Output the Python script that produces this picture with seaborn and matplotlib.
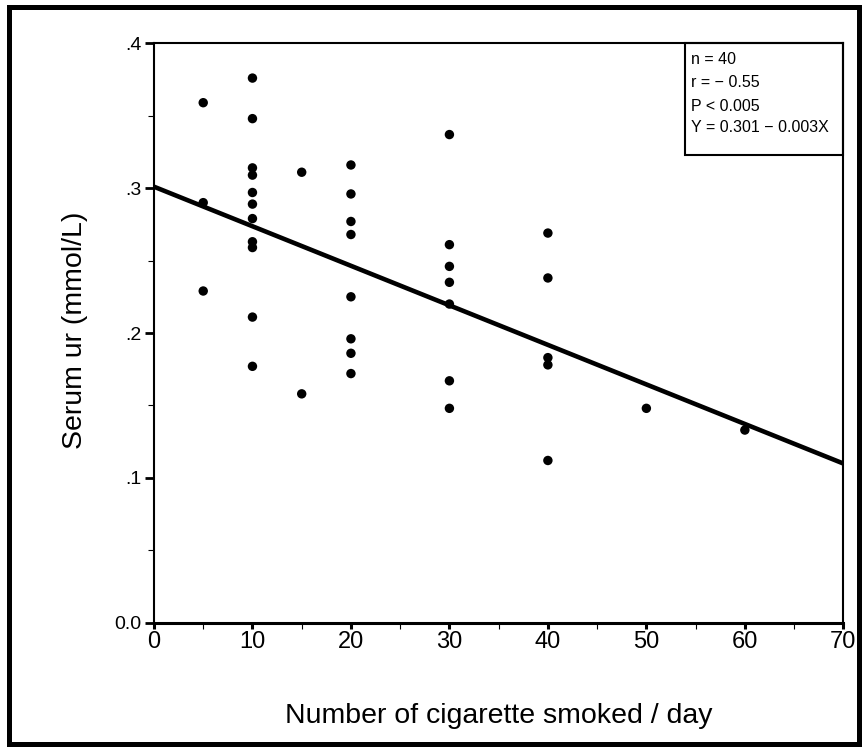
import matplotlib.pyplot as plt
import seaborn as sns
import numpy as np
import pandas as pd
from matplotlib.patches import Rectangle
from matplotlib.ticker import MultipleLocator

# ------------------------------------------------------------
# Data
# ------------------------------------------------------------
cig_per_day = [5, 5, 5,
               10, 10, 10, 10, 10, 10, 10, 10, 10, 10, 10,
               15, 15,
               20, 20, 20, 20, 20, 20, 20, 20,
               30, 30, 30, 30, 30, 30, 30,
               40, 40, 40, 40, 40,
               50,
               60]
serum_ur = [0.359, 0.290, 0.229,
            0.376, 0.348, 0.314, 0.309, 0.297, 0.289, 0.279, 0.263, 0.259, 0.211, 0.177,
            0.311, 0.158,
            0.316, 0.296, 0.277, 0.268, 0.225, 0.196, 0.186, 0.172,
            0.337, 0.261, 0.246, 0.235, 0.220, 0.167, 0.148,
            0.269, 0.238, 0.183, 0.178, 0.112,
            0.148,
            0.133]

# regression line as drawn
fit_x = [0, 70]
fit_intercept = 0.301
fit_slope = -0.00273

x_ticks = [0, 10, 20, 30, 40, 50, 60, 70]
y_ticks = [0.0, 0.1, 0.2, 0.3, 0.4]
y_tick_labels = ["0.0", ".1", ".2", ".3", ".4"]

stats_lines = ["n = 40", "r = \u2212 0.55", "P < 0.005", "Y = 0.301 \u2212 0.003X"]

df = pd.DataFrame({"cig": cig_per_day, "ur": serum_ur})
fit_df = pd.DataFrame({"x": fit_x,
                       "y": [fit_intercept + fit_slope * v for v in fit_x]})

# ------------------------------------------------------------
# Figure
# ------------------------------------------------------------
sns.set_style("ticks")
plt.rcParams['font.family'] = ['Liberation Sans', 'DejaVu Sans']
plt.rcParams['axes.edgecolor'] = 'black'
plt.rcParams['xtick.color'] = 'black'
plt.rcParams['ytick.color'] = 'black'
plt.rcParams['text.color'] = 'black'
plt.rcParams['axes.labelcolor'] = 'black'

fig = plt.figure(figsize=(8.67, 7.48), dpi=100)
ax = fig.add_axes([0.1776, 0.1675, 0.7951, 0.7746])

sns.lineplot(data=fit_df, x="x", y="y", color="black", linewidth=3.3, ax=ax, zorder=2)
sns.scatterplot(data=df, x="cig", y="ur", color="black", s=46, edgecolor="none",
                ax=ax, zorder=3)

ax.set_xlim(0, 70)
ax.set_ylim(0, 0.4)
ax.set_xticks(x_ticks)
ax.set_xticklabels([str(v) for v in x_ticks])
ax.set_yticks(y_ticks)
ax.set_yticklabels(y_tick_labels)
ax.xaxis.set_minor_locator(MultipleLocator(5))
ax.yaxis.set_minor_locator(MultipleLocator(0.05))

ax.tick_params(axis='y', which='major', length=6.5, width=2, pad=2.4, labelsize=14)
ax.tick_params(axis='y', which='minor', length=4.3, width=0.8)
ax.tick_params(axis='x', which='major', length=4.5, width=2.2, pad=1.5, labelsize=17)
ax.tick_params(axis='x', which='minor', length=4.5, width=0.8)
for lbl in ax.get_xticklabels():
    lbl.set_family(['Liberation Sans Narrow', 'Liberation Sans', 'DejaVu Sans'])

for side in ['left', 'top', 'right']:
    ax.spines[side].set_linewidth(1.5)
    ax.spines[side].set_visible(True)
ax.spines['bottom'].set_linewidth(2.2)

ax.set_xlabel("Number of cigarette smoked / day", fontsize=20.5)
ax.set_ylabel("Serum ur (mmol/L)", fontsize=20.5)
ax.xaxis.set_label_coords(0.5, -0.1386)
ax.yaxis.set_label_coords(-0.0957, 0.504)

# stats box in the upper right corner
ax.add_patch(Rectangle((0.7703, 0.8072), 0.2297, 0.1928, transform=ax.transAxes,
                       fill=False, lw=1.5, ec="black", clip_on=False, zorder=5))
stats_y = [0.9712, 0.9315, 0.8901, 0.8555]
for txt, yy in zip(stats_lines, stats_y):
    ax.text(0.779, yy, txt, transform=ax.transAxes, fontsize=11.5,
            ha="left", va="center")

# outer frame
fig.add_artist(Rectangle((9.2 / 867, 4 / 748), (859 - 9.2) / 867, (741.3 - 4) / 748,
                         transform=fig.transFigure, fill=False, lw=3.6, ec="black"))

fig.savefig("out.png", dpi=100)
